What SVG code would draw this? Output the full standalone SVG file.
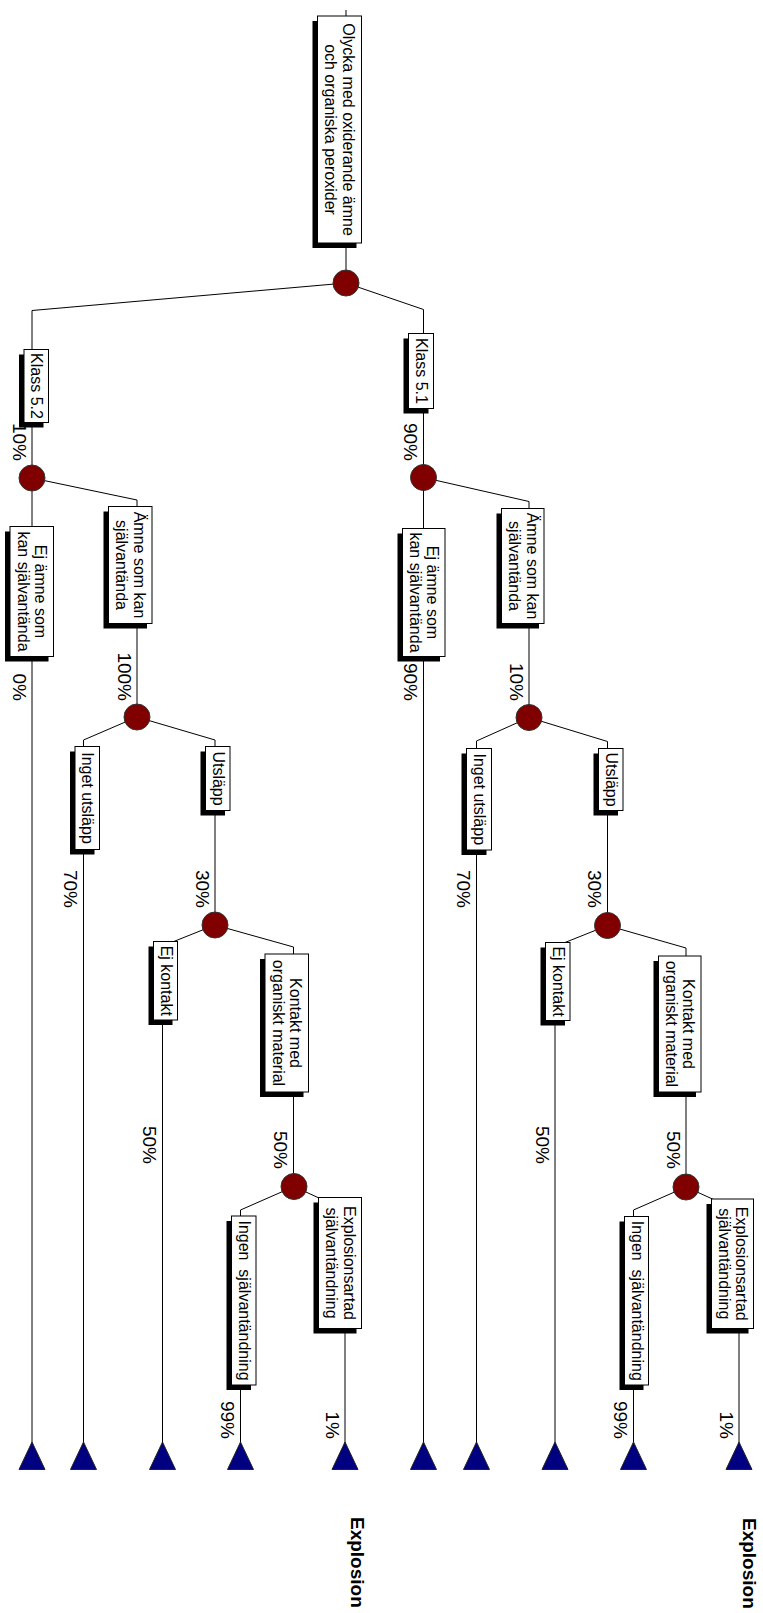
<svg xmlns="http://www.w3.org/2000/svg" width="763" height="1613" viewBox="0 0 763 1613">
<style>
.ln{stroke:#000;stroke-width:1;fill:none}
.sh{fill:#000}
.bx{fill:#fff;stroke:#000;stroke-width:1}
.t{font-family:"Liberation Sans",Arial,sans-serif;font-size:16px;fill:#000;text-anchor:middle}
.p{font-family:"Liberation Sans",Arial,sans-serif;font-size:19px;fill:#000;text-anchor:end}
.ch{fill:#800000;stroke:#333;stroke-width:1}
.tr{fill:#000080;stroke:#222;stroke-width:1}
.ex{font-family:"Liberation Sans",Arial,sans-serif;font-size:19px;font-weight:bold;fill:#000}
</style>
<rect width="763" height="1613" fill="#fff"/>
<g id="connectors">
  <line class="ln" x1="346" y1="10" x2="346" y2="283"/>
  <line class="ln" x1="346" y1="283" x2="32" y2="310.5"/>
  <line class="ln" x1="346" y1="283" x2="423.5" y2="309.5"/>
  <line class="ln" x1="32" y1="310.5" x2="32" y2="1450"/>
  <line class="ln" x1="32" y1="478" x2="137" y2="500"/>
  <line class="ln" x1="137" y1="500" x2="137" y2="717"/>
  <line class="ln" x1="137" y1="717" x2="83.5" y2="740"/>
  <line class="ln" x1="137" y1="717" x2="215" y2="740"/>
  <line class="ln" x1="83.5" y1="740" x2="83.5" y2="1450"/>
  <line class="ln" x1="215" y1="740" x2="215" y2="925"/>
  <line class="ln" x1="215" y1="925" x2="162.5" y2="946"/>
  <line class="ln" x1="215" y1="925" x2="293.5" y2="947"/>
  <line class="ln" x1="162.5" y1="946" x2="162.5" y2="1450"/>
  <line class="ln" x1="293.5" y1="947" x2="293.5" y2="1186.5"/>
  <line class="ln" x1="294" y1="1186.5" x2="240.5" y2="1210"/>
  <line class="ln" x1="294" y1="1186.5" x2="345" y2="1210"/>
  <line class="ln" x1="240.5" y1="1210" x2="240.5" y2="1450"/>
  <line class="ln" x1="345" y1="1210" x2="345" y2="1450"/>
  <line class="ln" x1="423.5" y1="309.5" x2="423.5" y2="1450"/>
  <line class="ln" x1="423.5" y1="477.5" x2="529" y2="501.5"/>
  <line class="ln" x1="529" y1="501.5" x2="529" y2="717.5"/>
  <line class="ln" x1="529" y1="717.5" x2="476.5" y2="741"/>
  <line class="ln" x1="529" y1="717.5" x2="607.5" y2="741.5"/>
  <line class="ln" x1="476.5" y1="741" x2="476.5" y2="1450"/>
  <line class="ln" x1="607.5" y1="741.5" x2="607.5" y2="925.5"/>
  <line class="ln" x1="607.5" y1="925.5" x2="555" y2="946.5"/>
  <line class="ln" x1="607.5" y1="925.5" x2="686" y2="948"/>
  <line class="ln" x1="555" y1="946.5" x2="555" y2="1450"/>
  <line class="ln" x1="686" y1="948" x2="686" y2="1187"/>
  <line class="ln" x1="686" y1="1187" x2="633.5" y2="1210"/>
  <line class="ln" x1="686" y1="1187" x2="739" y2="1211"/>
  <line class="ln" x1="633.5" y1="1210" x2="633.5" y2="1450"/>
  <line class="ln" x1="739" y1="1211" x2="739" y2="1450"/>
  <text class="p" transform="translate(12.5,461) rotate(90)">10%</text>
  <text class="p" transform="translate(12.5,701) rotate(90)">0%</text>
  <text class="p" transform="translate(117.5,701) rotate(90)">100%</text>
  <text class="p" transform="translate(64,908) rotate(90)">70%</text>
  <text class="p" transform="translate(195.5,908) rotate(90)">30%</text>
  <text class="p" transform="translate(143,1164) rotate(90)">50%</text>
  <text class="p" transform="translate(274,1169) rotate(90)">50%</text>
  <text class="p" transform="translate(221,1439) rotate(90)">99%</text>
  <text class="p" transform="translate(325.5,1439) rotate(90)">1%</text>
  <text class="p" transform="translate(404,461) rotate(90)">90%</text>
  <text class="p" transform="translate(404,701) rotate(90)">90%</text>
  <text class="p" transform="translate(509.5,701) rotate(90)">10%</text>
  <text class="p" transform="translate(457,908) rotate(90)">70%</text>
  <text class="p" transform="translate(588,908) rotate(90)">30%</text>
  <text class="p" transform="translate(535.5,1164) rotate(90)">50%</text>
  <text class="p" transform="translate(666.5,1169) rotate(90)">50%</text>
  <text class="p" transform="translate(614,1439) rotate(90)">99%</text>
  <text class="p" transform="translate(719.5,1439) rotate(90)">1%</text>
</g>
<g id="n-root">
  <rect class="sh" x="312.5" y="21" width="44" height="227"/>
  <rect class="bx" x="317.5" y="16" width="44" height="227"/>
  <text class="t" transform="translate(342.5,129.5) rotate(90)"><tspan x="0" y="0">Olycka med oxiderande ämne</tspan><tspan x="0" dy="17.5">och organiska peroxider</tspan></text>
</g>
<g id="c-root"><circle class="ch" cx="346" cy="283" r="13"/></g>
<g id="n-klass52">
  <rect class="sh" x="19" y="354.5" width="24.5" height="73"/>
  <rect class="bx" x="24" y="349.5" width="24.5" height="73"/>
  <text class="t" transform="translate(31,386) rotate(90)">Klass 5.2</text>
</g>
<g id="c-52"><circle class="ch" cx="32" cy="478" r="13"/></g>
<g id="n-ejamne-l">
  <rect class="sh" x="5" y="531.5" width="43.5" height="130"/>
  <rect class="bx" x="10" y="526.5" width="43.5" height="130"/>
  <text class="t" transform="translate(35,591.5) rotate(90)"><tspan x="0" y="0">Ej ämne som</tspan><tspan x="0" dy="17.5">kan självantända</tspan></text>
</g>
<g id="n-amne-l">
  <rect class="sh" x="103.5" y="511.5" width="43.5" height="117"/>
  <rect class="bx" x="108.5" y="506.5" width="43.5" height="117"/>
  <text class="t" transform="translate(133.5,565) rotate(90)"><tspan x="0" y="0">Ämne som kan</tspan><tspan x="0" dy="17.5">självantända</tspan></text>
</g>
<g id="c-amne-l"><circle class="ch" cx="137" cy="717" r="13"/></g>
<g id="n-inget-l">
  <rect class="sh" x="70" y="751.5" width="24.5" height="103"/>
  <rect class="bx" x="75" y="746.5" width="24.5" height="103"/>
  <text class="t" transform="translate(82,798) rotate(90)">Inget utsläpp</text>
</g>
<g id="n-utslapp-l">
  <rect class="sh" x="200.5" y="751.5" width="24.5" height="64"/>
  <rect class="bx" x="205.5" y="746.5" width="24.5" height="64"/>
  <text class="t" transform="translate(212.5,778.5) rotate(90)">Utsläpp</text>
</g>
<g id="c-utslapp-l"><circle class="ch" cx="215" cy="925" r="13"/></g>
<g id="n-ejkontakt-l">
  <rect class="sh" x="148.5" y="946.5" width="24" height="78.5"/>
  <rect class="bx" x="153.5" y="941.5" width="24" height="78.5"/>
  <text class="t" transform="translate(160.5,980.75) rotate(90)">Ej kontakt</text>
</g>
<g id="n-kontakt-l">
  <rect class="sh" x="260" y="959" width="43.5" height="138"/>
  <rect class="bx" x="265" y="954" width="43.5" height="138"/>
  <text class="t" transform="translate(290,1023) rotate(90)"><tspan x="0" y="0">Kontakt med</tspan><tspan x="0" dy="17.5">organiskt material</tspan></text>
</g>
<g id="c-kontakt-l"><circle class="ch" cx="294" cy="1186.5" r="13"/></g>
<g id="n-ingen-l">
  <rect class="sh" x="226.5" y="1221" width="24.5" height="169"/>
  <rect class="bx" x="231.5" y="1216" width="24.5" height="169"/>
  <text class="t" transform="translate(238.5,1300.5) rotate(90)">Ingen&#160; självantändning</text>
</g>
<g id="n-expl-l">
  <rect class="sh" x="313.5" y="1202.5" width="43" height="131"/>
  <rect class="bx" x="318.5" y="1197.5" width="43" height="131"/>
  <text class="t" transform="translate(343.5,1263) rotate(90)"><tspan x="0" y="0">Explosionsartad</tspan><tspan x="0" dy="17.5">självantändning</tspan></text>
</g>
<g id="n-klass51">
  <rect class="sh" x="403.5" y="338.5" width="25" height="75"/>
  <rect class="bx" x="408.5" y="333.5" width="25" height="75"/>
  <text class="t" transform="translate(415.5,371) rotate(90)">Klass 5.1</text>
</g>
<g id="c-51"><circle class="ch" cx="423.5" cy="477.5" r="13"/></g>
<g id="n-ejamne-r">
  <rect class="sh" x="397.5" y="533.5" width="42.5" height="128"/>
  <rect class="bx" x="402.5" y="528.5" width="42.5" height="128"/>
  <text class="t" transform="translate(427,592.5) rotate(90)"><tspan x="0" y="0">Ej ämne som</tspan><tspan x="0" dy="17.5">kan självantända</tspan></text>
</g>
<g id="n-amne-r">
  <rect class="sh" x="496.5" y="513.5" width="42.5" height="115"/>
  <rect class="bx" x="501.5" y="508.5" width="42.5" height="115"/>
  <text class="t" transform="translate(526.5,566) rotate(90)"><tspan x="0" y="0">Ämne som kan</tspan><tspan x="0" dy="17.5">självantända</tspan></text>
</g>
<g id="c-amne-r"><circle class="ch" cx="529" cy="717.5" r="13"/></g>
<g id="n-inget-r">
  <rect class="sh" x="461.5" y="753.5" width="25" height="101.5"/>
  <rect class="bx" x="466.5" y="748.5" width="25" height="101.5"/>
  <text class="t" transform="translate(473.5,799.25) rotate(90)">Inget utsläpp</text>
</g>
<g id="n-utslapp-r">
  <rect class="sh" x="593.5" y="753.5" width="24.5" height="62"/>
  <rect class="bx" x="598.5" y="748.5" width="24.5" height="62"/>
  <text class="t" transform="translate(605.5,779.5) rotate(90)">Utsläpp</text>
</g>
<g id="c-utslapp-r"><circle class="ch" cx="607.5" cy="925.5" r="13"/></g>
<g id="n-ejkontakt-r">
  <rect class="sh" x="540.5" y="947.5" width="24.5" height="78"/>
  <rect class="bx" x="545.5" y="942.5" width="24.5" height="78"/>
  <text class="t" transform="translate(552.5,981.5) rotate(90)">Ej kontakt</text>
</g>
<g id="n-kontakt-r">
  <rect class="sh" x="653.5" y="961" width="42.5" height="136"/>
  <rect class="bx" x="658.5" y="956" width="42.5" height="136"/>
  <text class="t" transform="translate(683,1024) rotate(90)"><tspan x="0" y="0">Kontakt med</tspan><tspan x="0" dy="17.5">organiskt material</tspan></text>
</g>
<g id="c-kontakt-r"><circle class="ch" cx="686" cy="1187" r="13"/></g>
<g id="n-ingen-r">
  <rect class="sh" x="619.5" y="1221.5" width="24" height="168.5"/>
  <rect class="bx" x="624.5" y="1216.5" width="24" height="168.5"/>
  <text class="t" transform="translate(631.5,1300.75) rotate(90)">Ingen&#160; självantändning</text>
</g>
<g id="n-expl-r">
  <rect class="sh" x="706.5" y="1204" width="42" height="129.5"/>
  <rect class="bx" x="711.5" y="1199" width="42" height="129.5"/>
  <text class="t" transform="translate(736,1263.75) rotate(90)"><tspan x="0" y="0">Explosionsartad</tspan><tspan x="0" dy="17.5">självantändning</tspan></text>
</g>
<g id="t-l1"><polygon class="tr" points="32,1442 19,1469.5 45,1469.5"/></g>
<g id="t-l2"><polygon class="tr" points="83.5,1442 70.5,1469.5 96.5,1469.5"/></g>
<g id="t-l3"><polygon class="tr" points="162.5,1442 149.5,1469.5 175.5,1469.5"/></g>
<g id="t-l4"><polygon class="tr" points="240.5,1442 227.5,1469.5 253.5,1469.5"/></g>
<g id="t-l5"><polygon class="tr" points="345,1442 332,1469.5 358,1469.5"/>
  <text class="ex" transform="translate(351,1517) rotate(90)">Explosion</text></g>
<g id="t-r1"><polygon class="tr" points="423.5,1442 410.5,1469.5 436.5,1469.5"/></g>
<g id="t-r2"><polygon class="tr" points="476.5,1442 463.5,1469.5 489.5,1469.5"/></g>
<g id="t-r3"><polygon class="tr" points="555,1442 542,1469.5 568,1469.5"/></g>
<g id="t-r4"><polygon class="tr" points="633.5,1442 620.5,1469.5 646.5,1469.5"/></g>
<g id="t-r5"><polygon class="tr" points="739,1442 726,1469.5 752,1469.5"/>
  <text class="ex" transform="translate(742.5,1518) rotate(90)">Explosion</text></g>
</svg>
